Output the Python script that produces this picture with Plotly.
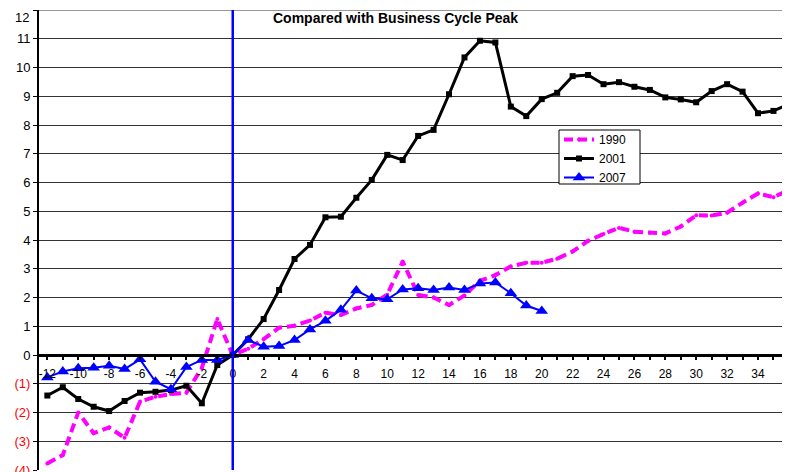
import plotly.graph_objects as go

months_all = list(range(-12, 37))
months_2007 = list(range(-12, 21))

y1990 = [-3.77, -3.48, -2.0, -2.72, -2.52, -2.88, -1.62, -1.45, -1.36, -1.31, -0.45, 1.25,
         0.0, 0.22, 0.55, 0.95, 1.02, 1.2, 1.47, 1.39, 1.62, 1.74, 2.1, 3.25,
         2.09, 2.0, 1.74, 2.07, 2.58, 2.78, 3.08, 3.21, 3.21, 3.35, 3.6, 3.97,
         4.21, 4.42, 4.29, 4.25, 4.23, 4.47, 4.86, 4.85, 4.95, 5.3, 5.62, 5.49, 5.74]

y2001 = [-1.41, -1.12, -1.53, -1.8, -1.95, -1.6, -1.31, -1.28, -1.22, -1.07, -1.68, -0.35,
         0.0, 0.55, 1.25, 2.26, 3.34, 3.83, 4.79, 4.81, 5.47, 6.09, 6.96, 6.78,
         7.62, 7.83, 9.07, 10.35, 10.93, 10.87, 8.64, 8.31, 8.9, 9.12, 9.7, 9.74,
         9.42, 9.49, 9.33, 9.22, 8.96, 8.89, 8.79, 9.18, 9.42, 9.16, 8.41, 8.49, 8.73]

y2007 = [-0.78, -0.57, -0.46, -0.44, -0.37, -0.49, -0.15, -0.93, -1.19, -0.42, -0.17, -0.17,
         0.0, 0.52, 0.29, 0.31, 0.52, 0.89, 1.19, 1.57, 2.24, 1.97, 1.94, 2.28,
         2.32, 2.26, 2.35, 2.26, 2.49, 2.52, 2.15, 1.72, 1.53]

y_tick_vals = list(range(-4, 13))
y_tick_text = [f'<span style="color:#FF0000">({-v})</span>' if v < 0 else str(v) for v in y_tick_vals]
x_tick_vals = list(range(-12, 37, 2))
x_tick_text = [str(v) for v in x_tick_vals]

title_text = "Compared with Business Cycle Peak"
FONT = "Liberation Sans, Arial, sans-serif"

# page body has an 8px margin; plot area in window: x 39..790, y 10..470
PL, PT, PW, PH = 39, 10, 751, 460
def px(x):
    return (x - PL) / PW
def py(y):
    return 1 - (y - PT) / PH

# the top tick label would be clipped at the page edge: draw it a few px lower
top_label = y_tick_text[-1]
y_tick_text_axis = y_tick_text[:-1] + [""]

fig = go.Figure()
fig.add_trace(go.Scatter(
    x=months_all, y=y1990, name="1990", mode="lines+markers",
    line=dict(color="#FF00FF", width=4, dash="9px,5px"),
    marker=dict(symbol="circle", size=4, color="#FF00FF"),
))
fig.add_trace(go.Scatter(
    x=months_all, y=y2001, name="2001", mode="lines+markers",
    line=dict(color="#000000", width=3),
    marker=dict(symbol="square", size=6, color="#000000"),
))
fig.add_trace(go.Scatter(
    x=months_2007, y=y2007, name="2007", mode="lines+markers",
    line=dict(color="#0000FF", width=2),
    marker=dict(symbol="triangle-up", size=11, color="#0000FF"),
))

fig.add_shape(type="line", xref="x", yref="paper", x0=0, x1=0, y0=0, y1=1,
              line=dict(color="#0000FF", width=2.5), layer="above")
# top frame line at 12 (grid line at range edge)
fig.add_shape(type="line", xref="paper", yref="y", x0=0, x1=1, y0=12, y1=12,
              line=dict(color="#333", width=1), layer="below")

# legend frame
fig.add_shape(type="rect", xref="paper", yref="paper",
              x0=px(559), x1=px(640), y0=py(184), y1=py(130),
              line=dict(color="#000", width=1), fillcolor="white", layer="above")

fig.add_annotation(text="<b>" + title_text + "</b>", xref="paper", yref="paper",
                   x=px(395), y=py(8), xanchor="center", yanchor="top",
                   showarrow=False, font=dict(size=14, color="#000", family=FONT))

fig.add_annotation(text=top_label, xref="paper", yref="paper",
                   x=px(31), y=py(8), xanchor="right", yanchor="top",
                   showarrow=False, font=dict(size=13, color="#000", family=FONT))

fig.update_layout(
    width=790, height=472,
    margin=dict(l=31, r=8, t=2, b=10, autoexpand=False),
    paper_bgcolor="white", plot_bgcolor="white",
    font=dict(family=FONT, size=12, color="#000"),
    showlegend=True,
    legend=dict(x=px(559), y=py(125), xanchor="left", yanchor="top",
                bgcolor="rgba(0,0,0,0)", borderwidth=0,
                font=dict(size=12, family=FONT), tracegroupgap=0,
                itemsizing="trace"),
    xaxis=dict(
        range=[-12.54, 36.07], anchor="free", position=0.25, automargin=False,
        tickmode="array", tickvals=x_tick_vals, ticktext=x_tick_text,
        ticklabeloverflow="allow",
        ticks="outside", ticklen=3, tickwidth=2, tickcolor="#000",
        minor=dict(dtick=1, tick0=0, ticks="outside", ticklen=3, tickwidth=2, tickcolor="#000", showgrid=False),
        showline=True, linecolor="#000", linewidth=3,
        showgrid=False, zeroline=False, ticklabelstandoff=4,
        tickfont=dict(size=12, color="#000"),
    ),
    yaxis=dict(
        range=[-4, 12], tickmode="array", tickvals=y_tick_vals, ticktext=y_tick_text_axis,
        automargin=False, ticklabeloverflow="allow",
        ticks="outside", ticklen=4, tickwidth=1, tickcolor="#000",
        showline=True, linecolor="#000", linewidth=2,
        showgrid=True, gridcolor="#333", gridwidth=1, zeroline=False,
        tickfont=dict(size=13, color="#000"),
    ),
)

fig.write_html("out.html")
